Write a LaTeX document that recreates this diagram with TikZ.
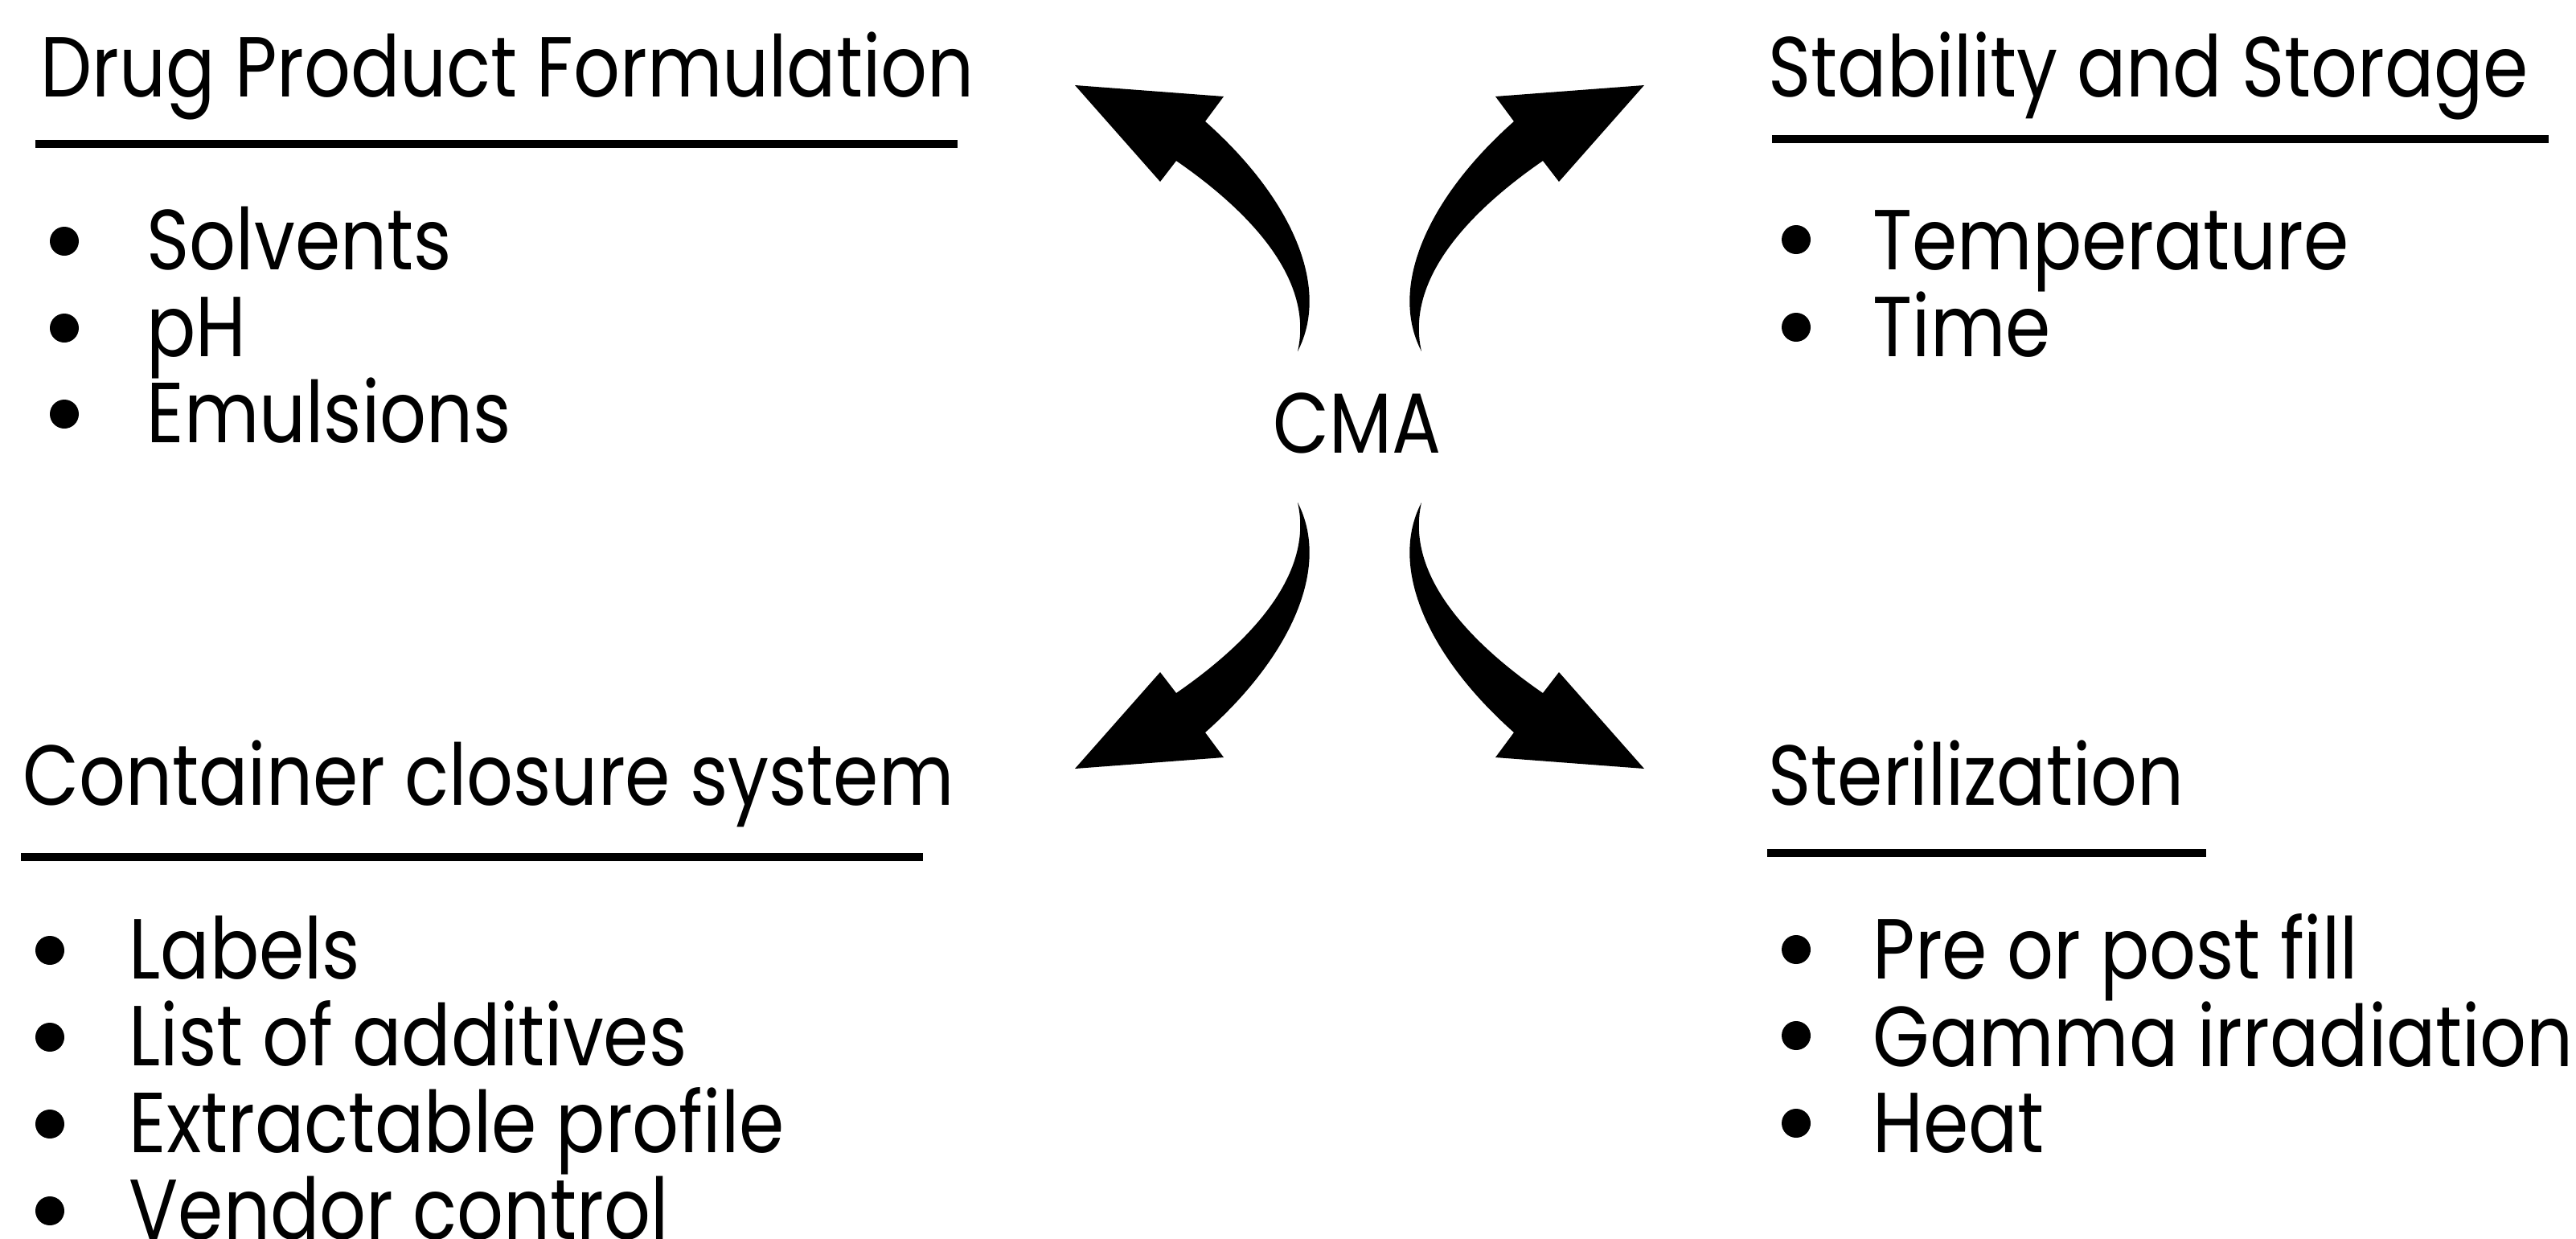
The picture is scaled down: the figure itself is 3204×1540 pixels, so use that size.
\documentclass[tikz,border=0pt]{standalone}
\usepackage{fontspec}
\setmainfont{Poppins}[FakeStretch=0.855]
\newcommand{\cmaarrowshape}{%
  \fill (-77,-94) .. controls (-35,-175) and (-86,-286) .. (-192,-380)
    -- (-169,-411) -- (-354,-425) -- (-248,-305) -- (-228,-331)
    .. controls (-141,-271) and (-56,-186) .. (-77,-94) -- cycle;}
\begin{document}
\begin{tikzpicture}[x=0.3pt,y=-0.3pt,
  txt/.style={font=\fontsize{31.8pt}{38pt}\selectfont, inner sep=0, anchor=base west},
  bul/.style={circle, fill=black, inner sep=0, minimum size=10.8pt},
  rulebar/.style={line width=3pt}]
\useasboundingbox (0,0) rectangle (3204,1540);
% centre
\node[txt, anchor=base] (cma) at (1688,563) {CMA};
% arrows
\begin{scope}[shift={(1691,531)}] \cmaarrowshape \end{scope}
\begin{scope}[shift={(1691,531)}, xscale=-1] \cmaarrowshape \end{scope}
\begin{scope}[shift={(1691,531)}, yscale=-1] \cmaarrowshape \end{scope}
\begin{scope}[shift={(1691,531)}, xscale=-1, yscale=-1] \cmaarrowshape \end{scope}
% top left
\node[txt] (t1) at (50,120) {Drug Product Formulation};
\draw[rulebar] (44,179) -- (1191,179);
\node[bul] (b11) at (80,300) {};
\node[bul] (b12) at (80,408) {};
\node[bul] (b13) at (80,515) {};
\node[txt] (i11) at (182,335) {Solvents};
\node[txt] (i12) at (182,443) {pH};
\node[txt] (i13) at (182,550) {Emulsions};
% top right
\node[txt] (t2) at (2199,120) {Stability and Storage};
\draw[rulebar] (2204,173) -- (3170,173);
\node[bul] (b21) at (2234,298) {};
\node[bul] (b22) at (2234,407) {};
\node[txt] (i21) at (2329,335) {Temperature};
\node[txt] (i22) at (2329,443) {Time};
% bottom left
\node[txt] (t3) at (28,1001) {Container closure system};
\draw[rulebar] (26,1066) -- (1148,1066);
\node[bul] (b31) at (62,1182) {};
\node[bul] (b32) at (62,1290) {};
\node[bul] (b33) at (62,1398) {};
\node[bul] (b34) at (62,1506) {};
\node[txt] (i31) at (160,1217) {Labels};
\node[txt] (i32) at (160,1325) {List of additives};
\node[txt] (i33) at (160,1433) {Extractable profile};
\node[txt] (i34) at (160,1541) {Vendor control};
% bottom right
\node[txt] (t4) at (2199,1001) {Sterilization};
\draw[rulebar] (2198,1061) -- (2744,1061);
\node[bul] (b41) at (2234,1181) {};
\node[bul] (b42) at (2234,1288) {};
\node[bul] (b43) at (2234,1397) {};
\node[txt] (i41) at (2329,1217) {Pre or post fill};
\node[txt] (i42) at (2329,1326) {Gamma irradiation};
\node[txt] (i43) at (2329,1433) {Heat};
\end{tikzpicture}
\end{document}
